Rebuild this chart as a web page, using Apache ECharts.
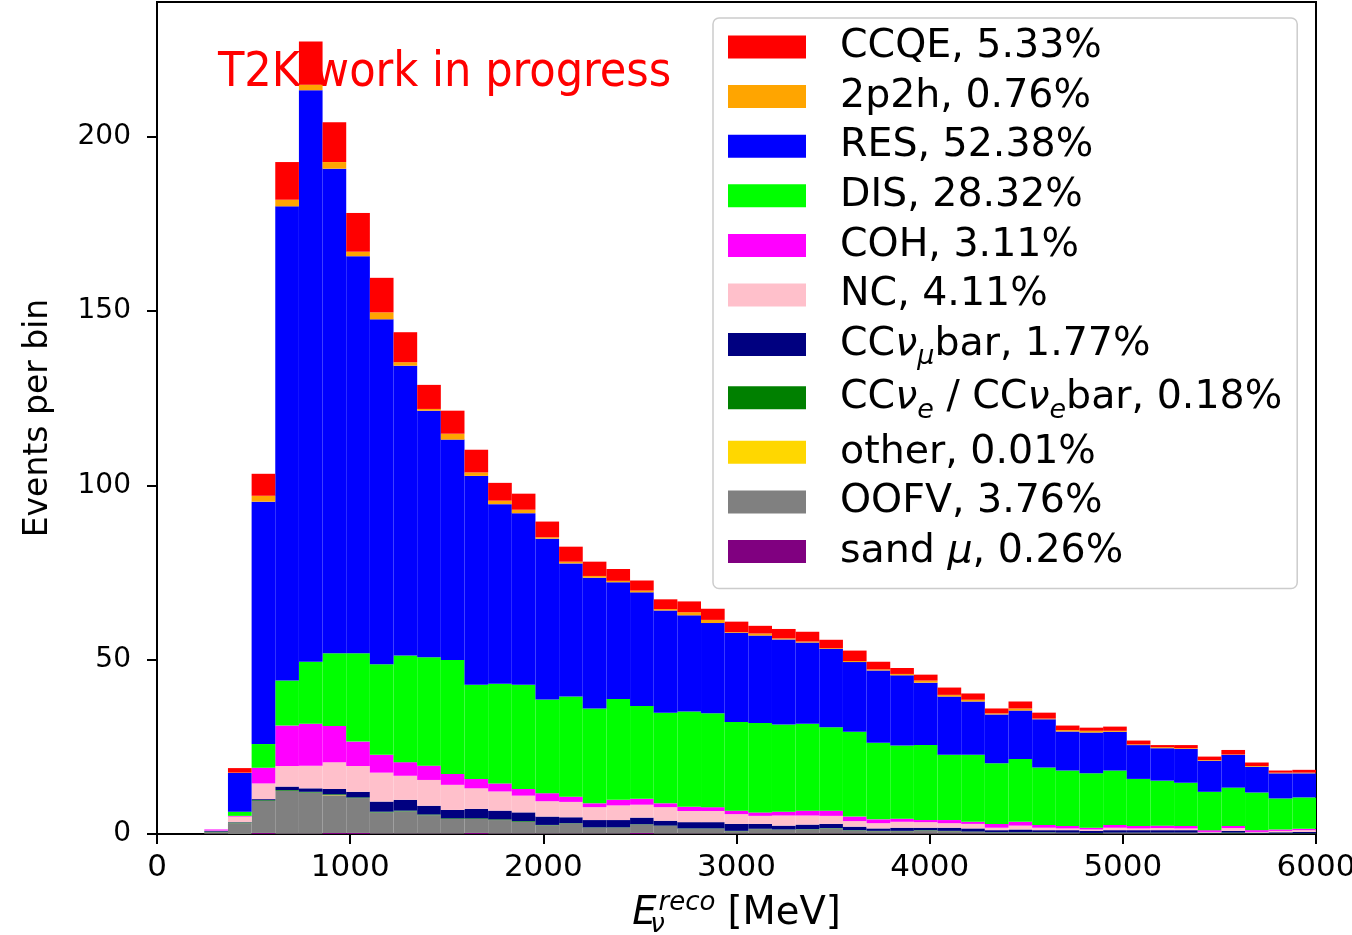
<!DOCTYPE html>
<html>
<head>
<meta charset="utf-8">
<script src="https://cdn.jsdelivr.net/npm/echarts@6/dist/echarts.min.js"></script>
<style>
html,body{margin:0;padding:0;background:#fff;}
#chart{width:1352px;height:935px;}
</style>
</head>
<body>
<div id="chart"></div>
<script>
// ---------------- data ----------------
const xRange = [0, 6000];
const nBins = 49;
const xTicks = [0, 1000, 2000, 3000, 4000, 5000, 6000];
const yTicks = [0, 50, 100, 150, 200];

// legend order (top of stack first)
const seriesNames = ['CCQE, 5.33%', '2p2h, 0.76%', 'RES, 52.38%', 'DIS, 28.32%', 'COH, 3.11%', 'NC, 4.11%',
  'CCνμbar, 1.77%', 'CCνe / CCνebar, 0.18%', 'other, 0.01%', 'OOFV, 3.76%', 'sand μ, 0.26%'];

const ccqe = [0,0,0,1.3,6.3,10.8,12.4,11.4,11.1,9.9,8.6,6.9,6.6,6.5,5.1,4.6,4.5,4.3,4.1,3.4,2.9,2.8,3.1,3.2,3.0,2.2,2.7,2.8,2.4,3.0,2.2,1.7,1.7,2.1,1.8,1.4,2.0,1.7,1.3,0.9,1.2,1.1,0.6,0.9,1.0,1.3,1.0,0.6,0.8];
const twoP2h = [0,0,0,0.1,1.7,1.9,1.6,1.9,1.3,2.0,1.0,0.5,1.7,1.0,1.0,1.0,0.4,0.5,0.5,0.4,0.5,0.4,0.9,0.9,0.2,0.6,0.3,0.3,0.2,0.3,0.3,0.4,0.6,0.5,0.5,0.3,0.6,0.2,0.4,0.5,0.3,0.2,0.3,0.2,0.2,0.1,0.2,0.2,0.2];
const res = [0,0,0,11.1,69.5,136.0,163.9,139.0,113.9,98.9,83.1,70.7,63.2,59.9,51.5,49.2,46.1,38.2,37.5,33.5,32.6,29.3,27.6,25.9,25.6,25.1,24.4,23.3,22.5,20.0,20.7,20.1,17.9,16.7,15.3,14.0,13.9,13.8,11.2,11.7,11.1,9.7,9.3,9.7,8.9,9.4,7.4,7.2,6.9];
const dis = [0,0,0,1.2,6.8,12.9,17.8,20.8,25.3,26.0,30.6,31.1,32.7,27.0,28.6,29.9,26.9,28.7,27.2,28.9,26.6,26.0,27.3,26.9,25.4,25.6,25.0,24.9,23.9,24.3,22.0,21.0,21.5,18.7,19.2,17.4,18.0,16.5,15.9,15.6,15.6,13.5,12.9,12.4,11.0,11.0,10.8,8.9,9.0];
const coh = [0,0,0.3,0.2,4.5,11.6,12.0,10.4,7.0,5.1,3.9,4.1,3.1,2.7,2.3,1.9,2.3,1.5,1.1,1.6,1.7,1.1,1.2,1.1,1.0,1.0,1.1,1.4,1.5,1.3,1.1,0.9,0.6,0.9,0.6,1.1,1.1,0.8,0.7,0.5,0.8,0.7,0.7,0.7,0.5,0.6,0.5,0.4,0.4];
const nc = [0,0,0.1,1.6,4.5,5.9,6.5,7.7,7.4,8.3,6.9,7.4,7.2,5.9,5.5,4.8,4.4,4.4,3.7,4.2,3.7,3.9,3.2,3.2,2.8,2.3,2.9,2.6,2.3,1.6,1.5,1.7,1.6,1.3,1.3,0.7,1.1,0.7,0.5,0.4,0.7,0.5,0.6,0.5,0.2,0.8,0.2,0.4,0.5];
const ccNumubar = [0,0,0.2,0.1,0.3,1.0,1.0,1.5,1.6,2.9,3.1,2.5,2.4,2.7,2.5,2.5,2.4,1.7,2.1,2.1,1.9,1.4,1.8,1.8,2.0,1.4,1.1,1.3,1.2,1.0,0.7,0.9,0.7,0.9,0.9,0.6,0.8,0.6,0.7,0.6,0.7,0.7,0.7,0.7,0.2,0.5,0.2,0.3,0.4];
const ccNue = [0,0,0.2,0.2,0.2,0.2,0.2,0.2,0.2,0.2,0.2,0.2,0.2,0.2,0.2,0.2,0.1,0.1,0.1,0.1,0.1,0.1,0.1,0.1,0.1,0.1,0.1,0.1,0.1,0.1,0.1,0.1,0.1,0.1,0.1,0.1,0.1,0.1,0.1,0.1,0.1,0.1,0.1,0.1,0.1,0.2,0.1,0.1,0.1];
const other = [0,0,0,0,0,0,0,0.1,0,0,0,0,0,0,0,0,0,0,0,0,0,0,0,0,0,0,0,0,0,0,0,0,0,0,0,0,0,0,0,0,0,0,0,0,0,0,0,0,0];
const oofv = [0,0,0.4,3.1,9.2,12.3,11.8,10.8,10.0,6.1,6.4,5.3,4.2,4.0,3.9,3.4,2.4,2.9,1.7,1.7,2.4,2.2,1.4,1.4,0.7,1.3,1.1,1.2,1.5,0.9,0.7,0.7,0.9,0.7,0.5,0.3,0.3,0.3,0.2,0.1,0.2,0.2,0.2,0.2,0.1,0.1,0.1,0.1,0.1];
const sandMu = [0,0,0.1,0,0.3,0.1,0.1,0.3,0.3,0.1,0.1,0.1,0.1,0.3,0.1,0.1,0.1,0.1,0.1,0.1,0.3,0.1,0.1,0.1,0.1,0.1,0.1,0.1,0.1,0.1,0.1,0.1,0.1,0.1,0.1,0.1,0.1,0.1,0.1,0.1,0.1,0.1,0.1,0.1,0,0.1,0,0,0];

// ---------------- style ----------------
const componentValues = [ccqe, twoP2h, res, dis, coh, nc, ccNumubar, ccNue, other, oofv, sandMu];
const colors = ['#ff0000', '#ffa500', '#0000ff', '#00ff00', '#ff00ff', '#ffc0cb', '#000080', '#008000', '#ffd700', '#808080', '#800080'];
const richNames = {
  'CCνμbar, 1.77%': 'CC{it|ν}{subm|μ}bar, 1.77%',
  'CCνe / CCνebar, 0.18%': 'CC{it|ν}{sube|e} / CC{it|ν}{sube|e}bar, 0.18%',
  'sand μ, 0.26%': 'sand {it|μ}, 0.26%'
};
const COND = "'DejaVu Sans Condensed', 'Liberation Sans Narrow', 'DejaVu Sans', sans-serif";
const SANS = "'DejaVu Sans', sans-serif";

const binW = (xRange[1] - xRange[0]) / nBins;

// build stacked rectangles, bottom (last) to top (first)
const cumulative = new Array(nBins).fill(0);
const seriesList = [];
for (let s = componentValues.length - 1; s >= 0; s--) {
  const vals = componentValues[s];
  const data = [];
  for (let i = 0; i < nBins; i++) {
    const lo = cumulative[i];
    const hi = lo + vals[i];
    data.push([xRange[0] + i * binW, xRange[0] + (i + 1) * binW, lo, hi]);
    cumulative[i] = hi;
  }
  seriesList.push({
    name: seriesNames[s],
    type: 'custom',
    itemStyle: { color: colors[s] },
    encode: { x: [0, 1], y: [2, 3] },
    clip: true,
    animation: false,
    renderItem: function (params, api) {
      const y0 = api.value(2), y1 = api.value(3);
      if (!(y1 > y0)) return null;
      const p0 = api.coord([api.value(0), y0]);
      const p1 = api.coord([api.value(1), y1]);
      return {
        type: 'rect',
        shape: { x: p0[0], y: p1[1], width: p1[0] - p0[0], height: p0[1] - p1[1] },
        style: { fill: api.visual('color') }
      };
    },
    data: data
  });
}

const chart = echarts.init(document.getElementById('chart'), null, { renderer: 'canvas' });
chart.setOption({
  backgroundColor: '#ffffff',
  animation: false,
  grid: { left: 157, top: 2, right: 36, bottom: 101, containLabel: false, outerBoundsMode: 'none',
    show: true, borderColor: '#000', borderWidth: 2, backgroundColor: 'transparent' },
  graphic: [{
    type: 'text', z: 0, zlevel: 0, silent: true,
    x: 218, y: 74,
    style: { text: 'T2K work in progress', fill: '#ff0000', fontSize: 48, fontFamily: COND, verticalAlign: 'middle', align: 'left' }
  }],
  legend: {
    data: seriesNames,
    orient: 'vertical',
    left: 713, top: 18,
    padding: [7, 15, 15, 15],
    itemWidth: 78, itemHeight: 23, itemGap: 5.6,
    icon: 'rect',
    backgroundColor: '#ffffff',
    borderColor: '#cccccc', borderWidth: 1.5, borderRadius: 6,
    selectedMode: false,
    z: 10,
    formatter: function (name) { return richNames[name] || name; },
    textStyle: {
      fontFamily: SANS, fontSize: 39.5, color: '#000', lineHeight: 44, padding: [0, 0, 0, 29],
      rich: {
        it: { fontFamily: SANS, fontSize: 39.5, fontStyle: 'italic', color: '#000', lineHeight: 44, verticalAlign: 'middle' },
        subm: { fontFamily: SANS, fontSize: 27, fontStyle: 'italic', color: '#000', verticalAlign: 'middle', padding: [24, 0, 0, 0] },
        sube: { fontFamily: SANS, fontSize: 27, fontStyle: 'italic', color: '#000', verticalAlign: 'middle', padding: [27, 0, 0, 0] }
      }
    }
  },
  xAxis: {
    type: 'value', min: xRange[0], max: xRange[1], interval: 1000,
    splitLine: { show: false },
    axisLine: { show: true, onZero: false, lineStyle: { color: '#000', width: 2 } },
    axisTick: { show: true, inside: false, length: 10, lineStyle: { color: '#000', width: 2 } },
    axisLabel: { fontFamily: SANS, fontSize: 31, color: '#000', margin: 18,
      formatter: function (v) { return xTicks.indexOf(v) >= 0 ? String(v) : ''; } },
    name: '{it|E}{sub|ν}{sup|reco} [MeV]',
    nameLocation: 'middle', nameGap: 56,
    nameTextStyle: {
      fontFamily: SANS, fontSize: 38.5, color: '#000', lineHeight: 48,
      rich: {
        it: { fontFamily: SANS, fontSize: 38.5, fontStyle: 'italic', color: '#000', lineHeight: 48 },
        sub: { fontFamily: SANS, fontSize: 26, fontStyle: 'italic', color: '#000', verticalAlign: 'bottom', lineHeight: 24, width: 2 },
        sup: { fontFamily: SANS, fontSize: 26, fontStyle: 'italic', color: '#000', verticalAlign: 'top', lineHeight: 24 }
      }
    }
  },
  yAxis: {
    type: 'value', min: 0, max: 238.6, interval: 50,
    splitLine: { show: false },
    axisLine: { show: true, lineStyle: { color: '#000', width: 2 } },
    axisTick: { show: true, inside: false, length: 10, lineStyle: { color: '#000', width: 2 }, customValues: yTicks },
    axisLabel: { fontFamily: SANS, fontSize: 28, color: '#000', margin: 26, customValues: yTicks,
      formatter: function (v) { return yTicks.indexOf(v) >= 0 ? String(v) : ''; } },
    name: 'Events per bin',
    nameLocation: 'middle', nameGap: 99,
    nameTextStyle: { fontFamily: SANS, fontSize: 33, color: '#000', lineHeight: 40 }
  },
  series: seriesList
});
</script>
</body>
</html>
